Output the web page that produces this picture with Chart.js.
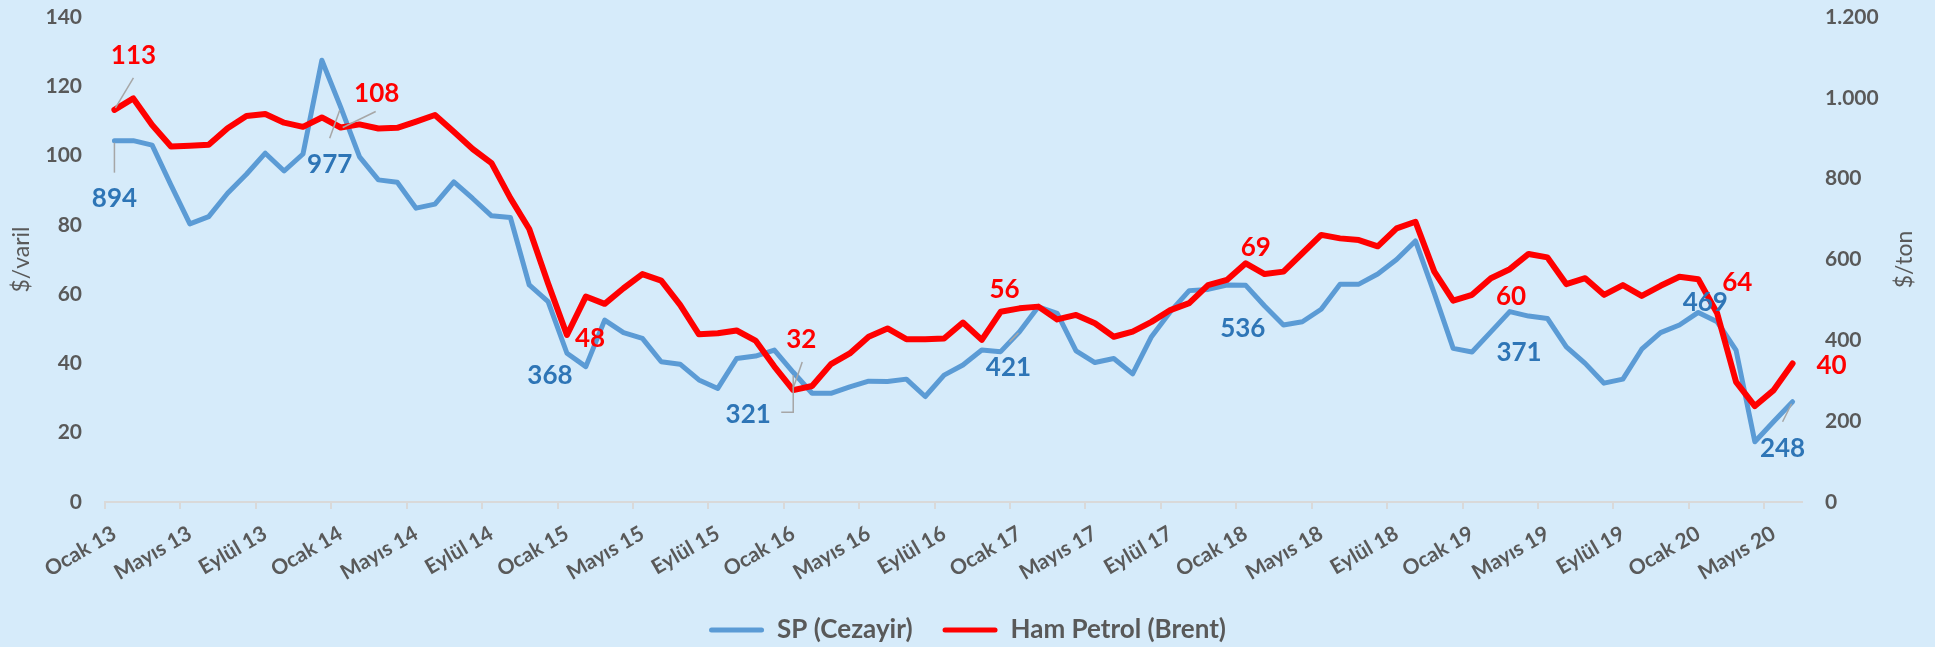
<!DOCTYPE html>
<html lang="tr">
<head>
<meta charset="utf-8">
<title>SP (Cezayir) ve Ham Petrol (Brent)</title>
<script src="https://cdn.jsdelivr.net/npm/chart.js@4.4.1/dist/chart.umd.min.js"></script>
<style>
  html, body { margin: 0; padding: 0; background: #D6EBFA; }
  #wrap { width: 1935px; height: 647px; }
</style>
</head>
<body>
<div id="wrap"><canvas id="chart" width="1935" height="647"></canvas></div>
<script>
// Kategoriler: Ocak 13 - Haziran 20 (aylık)
const monthNames = ['Ocak', 'Şubat', 'Mart', 'Nisan', 'Mayıs', 'Haziran', 'Temmuz', 'Ağustos', 'Eylül', 'Ekim', 'Kasım', 'Aralık'];
const years = ['13', '14', '15', '16', '17', '18', '19', '20'];
const monthsInLastYear = 6;

// SP (Cezayir), $/ton - sağ eksen
const spValues = [
  894, 894, 883, 784, 688, 706, 764, 811, 863, 819, 861, 1093,
  977, 854, 797, 791, 727, 737, 792, 751, 708, 704, 537, 496,
  368, 335, 450, 419, 405, 347, 341, 302, 281, 355, 361, 376,
  321, 269, 269, 285, 299, 298, 304, 261, 314, 339, 376, 372,
  421, 483, 467, 374, 345, 355, 317, 409, 471, 523, 526, 537,
  536, 485, 438, 446, 477, 539, 539, 564, 600, 646, 516, 380,
  371, 421, 471, 460, 454, 384, 343, 294, 304, 378, 419, 438,
  469, 446, 376, 149, 199, 248
];

// Ham Petrol (Brent), $/varil - sol eksen
const brentValues = [
  113.2, 116.5, 108.8, 102.6, 102.8, 103.1, 107.9, 111.4, 112.0, 109.5, 108.3, 111.0,
  108.1, 109.0, 107.8, 108.0, 109.8, 111.7, 106.9, 101.9, 97.8, 87.7, 78.8, 63.1,
  48.2, 59.3, 57.2, 61.7, 65.8, 63.9, 56.9, 48.4, 48.7, 49.5, 46.6, 39.1,
  32.3, 33.5, 39.8, 42.9, 47.7, 50.1, 47.0, 47.0, 47.2, 51.8, 46.8, 54.9,
  55.9, 56.4, 52.7, 54.0, 51.6, 47.7, 49.2, 52.0, 55.4, 57.4, 62.6, 64.1,
  68.9, 65.8, 66.5, 71.8, 77.1, 76.1, 75.6, 73.8, 79.0, 80.9, 66.5, 58.1,
  59.8, 64.6, 67.2, 71.6, 70.6, 62.9, 64.6, 59.8, 62.6, 59.5, 62.4, 65.0,
  64.3, 54.5, 34.7, 27.7, 32.3, 40.0
];

// Eksen ölçekleri
const leftTicks = { min: 0, max: 140, step: 20 };
const rightTicks = { min: 0, max: 1200, step: 200 };

// Veri etiketi gösterilen noktalar (her yılın Ocak ayı + son ay)
const labelIndexes = [0, 12, 24, 36, 48, 60, 72, 84, 89];

// Etiket konumları: noktaya göre piksel kayması [dx, dy]
const spLabelOffsets = [[0, 58], [-11, 57], [-17, 22], [-45, 42], [-11, 36], [-3, 43], [47, 1], [7, -10], [-10, 47]];
const brentLabelOffsets = [[19, -54], [36, -34], [23, 4], [8, -50], [-15, -19], [10, -16], [39, 2], [39, 3], [39, 2]];

// Kılavuz çizgileri (noktaya göre köşe noktaları)
const spLeaders = [[[0, 2], [0, 32]], [[-1, 3], [-11, 31]], null, [[0, 3], [0, 40], [-12, 40]], [[-1, 1], [-10, 10]], null, null, null, [[-1, 2], [-10, 20]]];
const brentLeaders = [[[1, -2], [19, -32]], [[2, 0], [35, -16]], null, [[0, -2], [9, -28]], null, null, null, null, null];

const categories = [];
years.forEach((y, yi) => {
  const count = yi === years.length - 1 ? monthsInLastYear : 12;
  for (let m = 0; m < count; m++) categories.push(monthNames[m] + ' ' + y);
});

const FONT = 'Lato';
const TEXT_GRAY = '#595959';
const SP_COLOR = '#5B9BD5';
const SP_LABEL = '#2E75B6';
const BRENT_COLOR = '#FF0000';

function formatTr(v) {
  return String(v).replace(/\B(?=(\d{3})+(?!\d))/g, '.');
}

// Arka plan
const backgroundPlugin = {
  id: 'bg',
  beforeDraw(chart) {
    const ctx = chart.ctx;
    ctx.save();
    ctx.fillStyle = '#D6EBFA';
    ctx.fillRect(0, 0, chart.width, chart.height);
    ctx.restore();
  }
};

// Veri etiketleri + kılavuz çizgileri
const pointLabelsPlugin = {
  id: 'pointLabels',
  afterDatasetsDraw(chart) {
    const ctx = chart.ctx;
    const xs = chart.scales.x;
    const sets = [
      { values: spValues, axis: 'y1', offsets: spLabelOffsets, leaders: spLeaders, color: SP_LABEL },
      { values: brentValues, axis: 'y', offsets: brentLabelOffsets, leaders: brentLeaders, color: BRENT_COLOR }
    ];
    ctx.save();
    sets.forEach(set => {
      const ys = chart.scales[set.axis];
      labelIndexes.forEach((i, k) => {
        const px = xs.getPixelForValue(i);
        const py = ys.getPixelForValue(set.values[i]);
        const leader = set.leaders[k];
        if (leader) {
          ctx.strokeStyle = '#A6A6A6';
          ctx.lineWidth = 1.5;
          ctx.beginPath();
          leader.forEach(([dx, dy], j) => {
            if (j === 0) ctx.moveTo(px + dx, py + dy);
            else ctx.lineTo(px + dx, py + dy);
          });
          ctx.stroke();
        }
        const [ox, oy] = set.offsets[k];
        ctx.fillStyle = set.color;
        ctx.font = 'bold 26px ' + FONT;
        ctx.textAlign = 'center';
        ctx.textBaseline = 'middle';
        ctx.fillText(String(Math.round(set.values[i])), px + ox, py + oy);
      });
    });
    ctx.restore();
  }
};

// Sağ eksen başlığı (aşağıdan yukarı okunur)
const rightTitlePlugin = {
  id: 'rightTitle',
  afterDraw(chart) {
    const ctx = chart.ctx;
    const area = chart.chartArea;
    ctx.save();
    ctx.translate(chart.scales.y1.right - 30, (area.top + area.bottom) / 2);
    ctx.rotate(-Math.PI / 2);
    ctx.fillStyle = TEXT_GRAY;
    ctx.font = '23px ' + FONT;
    ctx.textAlign = 'center';
    ctx.textBaseline = 'middle';
    ctx.fillText('$/ton', 0, 0);
    ctx.restore();
  }
};

// Y eksenlerinde görünmez tik: etiketleri çizim alanından uzaklaştırır
const hiddenYGrid = {
  display: true,
  drawOnChartArea: false,
  drawTicks: true,
  tickLength: 19,
  color: 'rgba(0,0,0,0)'
};

const ctx = document.getElementById('chart').getContext('2d');
new Chart(ctx, {
  type: 'line',
  data: {
    labels: categories,
    datasets: [
      {
        label: 'SP (Cezayir)',
        data: spValues,
        yAxisID: 'y1',
        borderColor: SP_COLOR,
        backgroundColor: SP_COLOR,
        borderWidth: 5,
        order: 2
      },
      {
        label: 'Ham Petrol (Brent)',
        data: brentValues,
        yAxisID: 'y',
        borderColor: BRENT_COLOR,
        backgroundColor: BRENT_COLOR,
        borderWidth: 6,
        order: 1
      }
    ]
  },
  options: {
    responsive: false,
    animation: false,
    devicePixelRatio: 1,
    layout: { padding: { top: 17, left: 0, right: 0, bottom: -6 } },
    elements: {
      point: { radius: 0 },
      line: { tension: 0, borderCapStyle: 'round', borderJoinStyle: 'round', fill: false }
    },
    scales: {
      x: {
        type: 'category',
        offset: true,
        grid: {
          offset: true,
          drawOnChartArea: false,
          drawTicks: true,
          tickLength: 7,
          lineWidth: 2,
          color: (c) => (c.index % 4 === 0 ? '#D9D9D9' : 'rgba(0,0,0,0)')
        },
        border: { display: true, color: '#D9D9D9', width: 2 },
        ticks: {
          autoSkip: false,
          minRotation: 30,
          maxRotation: 30,
          padding: 12,
          color: TEXT_GRAY,
          font: { family: FONT, size: 21, weight: 'bold' },
          callback: function (value, index) {
            return index % 4 === 0 ? this.getLabelForValue(value) : '';
          }
        },
        afterFit: (s) => { s.height = 85; }
      },
      y: {
        position: 'left',
        min: leftTicks.min,
        max: leftTicks.max,
        grid: hiddenYGrid,
        border: { display: false },
        ticks: {
          stepSize: leftTicks.step,
          padding: 4,
          color: TEXT_GRAY,
          font: { family: FONT, size: 21, weight: 'bold' }
        },
        title: {
          display: true,
          text: '$/varil',
          color: TEXT_GRAY,
          font: { family: FONT, size: 23 },
          padding: { top: 8, bottom: 0 }
        },
        afterFit: (s) => { s.width = 105; }
      },
      y1: {
        position: 'right',
        min: rightTicks.min,
        max: rightTicks.max,
        grid: hiddenYGrid,
        border: { display: false },
        ticks: {
          stepSize: rightTicks.step,
          padding: 4,
          color: TEXT_GRAY,
          font: { family: FONT, size: 21, weight: 'bold' },
          callback: (v) => formatTr(v)
        },
        afterFit: (s) => { s.width = 133; }
      }
    },
    plugins: {
      tooltip: { enabled: false },
      legend: {
        position: 'bottom',
        labels: {
          boxWidth: 55,
          boxHeight: 5,
          padding: 30,
          color: TEXT_GRAY,
          font: { family: FONT, size: 26, weight: 'bold' },
          sort: (a, b) => a.datasetIndex - b.datasetIndex,
          generateLabels(chart) {
            return Chart.defaults.plugins.legend.labels.generateLabels(chart).map(item =>
              Object.assign(item, { fillStyle: item.strokeStyle, lineWidth: 0, borderRadius: 2.5 }));
          }
        }
      }
    }
  },
  plugins: [backgroundPlugin, pointLabelsPlugin, rightTitlePlugin]
});
</script>
</body>
</html>
